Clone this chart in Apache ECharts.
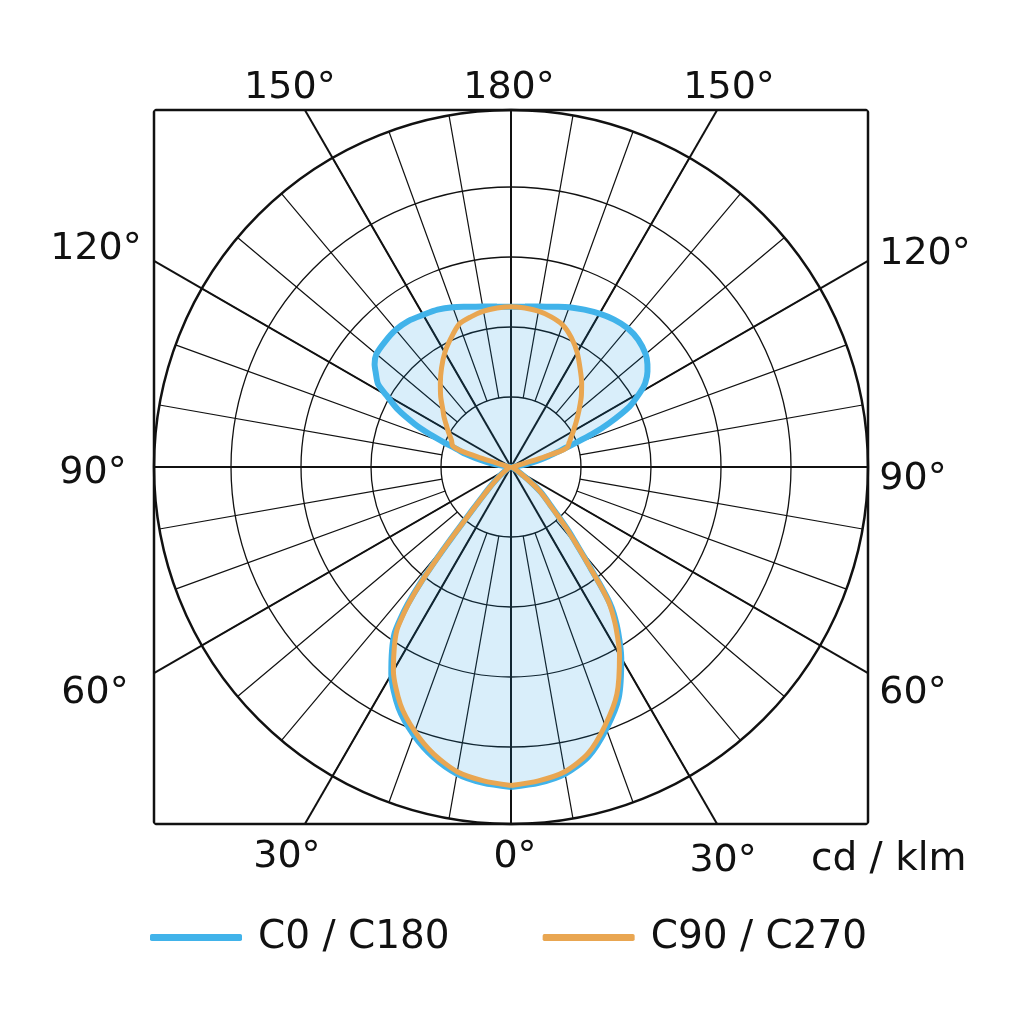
<!DOCTYPE html>
<html>
<head>
<meta charset="utf-8">
<script src="https://cdn.jsdelivr.net/npm/echarts@6/dist/echarts.min.js"></script>
<style>html,body{margin:0;padding:0;background:#fff}#c{width:1024px;height:1024px}</style>
</head>
<body>
<div id="c"></div>
<script>
// gamma angles (deg, 0 = straight down, 180 = straight up)
const gamma = [0,5,10,15,20,25,30,33,35,36,37,38,39,40,41,42,43,44,46,48,50,52,55,60,65,70,80,90,95,100,102,104,106,107,108,109,110,112,114,117,120,122,125,127,130,135,140,145,150,155,160,165,170,175,180];
// C0 (right half of blue curve), cd/klm
const c0   = [457,453,445,428,398,364,315,281,256,240,215,188,168,150,135,122,108,96,78,66,55,40,22,9,5,3,2,2,4,18,30,42,55,63,72,80,92,125,153,190,213,226,238,244,251,257,259,257,253,248,243,237,233,230,229];
// C180 (left half of blue curve)
const c180 = [457,453,445,429,407,380,342,312,290,270,245,210,168,130,100,82,68,58,44,34,26,20,13,7,4,3,2,2,4,22,36,52,68,74,80,88,100,125,150,182,206,224,236,244,251,254,256,255,251,248,243,237,233,230,229];
// C90 (right half of orange curve)
const c90  = [455,450,442,424,393,358,310,276,251,236,212,186,166,148,133,120,106,94,76,64,53,38,20,8,5,3,2,2,3,6,8,12,25,50,76,84,87,89,92,97,103,107,114,119,127,142,157,172,189,204,216,222,226,228,229];
// C270 (left half of orange curve)
const c270 = [455,450,442,425,402,374,336,306,284,264,240,206,165,128,98,80,66,56,42,32,25,19,12,6,4,3,2,2,3,6,8,12,25,50,76,85,89,91,93,98,104,108,115,120,127,142,157,173,189,203,217,222,226,228,229];

const seriesNames = ['C0 / C180', 'C90 / C270'];
const angleTicks = [0,30,60,90,120,150,180,210,240,270,300,330];
const ringValues = [100,200,300,400];
const radiusMax = 510;
const unitLabel = 'cd / klm';

// layout / style
const CX = 511, CY = 467, R_PX = 357;
const FONT = 'DejaVu Sans';
const INK = '#111';
const BLUE = '#41b3ea', ORANGE = '#e9a651', FILL = 'rgba(18,149,224,0.16)';
const labelOffsets = {
  0:[4,33], 30:[6,37], 60:[45,20], 90:[45,12], 120:[57,-7], 150:[12,-22],
  180:[-2,-22], 210:[-15,-22], 240:[-58,-12], 270:[-61,6], 300:[-59,20], 330:[-18,33]
};

function boxRadius(a){
  const t = (270 + a) * Math.PI / 180;
  return radiusMax / Math.max(Math.abs(Math.cos(t)), Math.abs(Math.sin(t)));
}

function curve(right, left){
  const d = gamma.map((g,i)=>[right[i], g]);
  for (let i = gamma.length - 2; i >= 0; i--) d.push([left[i], 360 - gamma[i]]);
  return d;
}

const ringMax = ringValues[ringValues.length-1];
const outerMax = radiusMax * Math.SQRT2;   // data polar reaches the frame corners
const hiddenRadius = {axisLine:{show:false},axisTick:{show:false},axisLabel:{show:false},splitLine:{show:false}};
const hiddenAngle = {axisLine:{show:false},axisTick:{show:false},axisLabel:{show:false},splitLine:{show:false}};

const series = [];
// frame square
series.push({
  type:'line', coordinateSystem:'polar', polarIndex:0, silent:true, clip:false,
  symbol:'none', data:[[outerMax,45],[outerMax,135],[outerMax,225],[outerMax,315],[outerMax,45]],
  lineStyle:{color:INK,width:2.5}, z:2
});
// thick spokes every 30 deg
angleTicks.forEach(a=>{
  series.push({
    type:'line', coordinateSystem:'polar', polarIndex:0, silent:true, clip:false,
    symbol:'none', data:[[0,a],[boxRadius(a),a]],
    lineStyle:{color:INK,width:2}, z:2
  });
});
// data curves
series.push({
  name:seriesNames[0], type:'line', coordinateSystem:'polar', polarIndex:0,
  data:curve(c0,c180), symbol:'none', smooth:0.25, clip:false,
  lineStyle:{color:BLUE,width:6}, itemStyle:{color:BLUE},
  areaStyle:{color:FILL, opacity:1}, z:3
});
series.push({
  name:seriesNames[1], type:'line', coordinateSystem:'polar', polarIndex:0,
  data:curve(c90,c270), symbol:'none', smooth:0.25, clip:false,
  lineStyle:{color:ORANGE,width:5}, itemStyle:{color:ORANGE}, z:4
});
// angle labels
series.push({
  type:'scatter', coordinateSystem:'polar', polarIndex:0, silent:true, clip:false,
  symbol:'circle', symbolSize:0.01, itemStyle:{color:'#fff', opacity:1},
  data: angleTicks.map(a=>({
    value:[boxRadius(a), a],
    label:{offset:labelOffsets[a]}
  })),
  label:{
    show:true, position:[0,0], align:'center', verticalAlign:'middle',
    fontSize:38, fontFamily:FONT, color:INK, opacity:1, textBorderWidth:0,
    formatter:p=>{ const a=p.value[1]; return (a<=180? a : 360-a) + '°'; }
  }, z:5
});

const option = {
  animation:false,
  backgroundColor:'#fff',
  textStyle:{fontFamily:FONT},
  title:{text:unitLabel, left:811, top:840, padding:0,
    textStyle:{fontSize:39, fontWeight:'normal', color:INK, fontFamily:FONT}},
  legend:{
    data:seriesNames, left:150, top:918, padding:0, icon:'roundRect',
    itemWidth:92, itemHeight:7, itemGap:93, selectedMode:false,
    textStyle:{fontSize:39, color:INK, fontFamily:FONT, padding:[0,0,0,11]}
  },
  polar:[
    {center:[CX,CY], radius:R_PX*Math.SQRT2},
    {center:[CX,CY], radius:R_PX*ringMax/radiusMax},
    {center:[CX,CY], radius:[R_PX*ringValues[0]/radiusMax, R_PX]},
    {center:[CX,CY], radius:R_PX}
  ],
  radiusAxis:[
    Object.assign({polarIndex:0, type:'value', min:0, max:outerMax}, hiddenRadius),
    {polarIndex:1, type:'value', min:0, max:ringMax, interval:ringValues[0],
      axisLine:{show:false}, axisTick:{show:false}, axisLabel:{show:false},
      splitLine:{show:true, lineStyle:{color:INK, width:1.3}}},
    Object.assign({polarIndex:2, type:'value', min:0, max:1}, hiddenRadius),
    Object.assign({polarIndex:3, type:'value', min:0, max:radiusMax}, hiddenRadius)
  ],
  angleAxis:[
    Object.assign({polarIndex:0, type:'value', min:0, max:360, startAngle:270, clockwise:false}, hiddenAngle),
    Object.assign({polarIndex:1, type:'value', min:0, max:360, startAngle:270, clockwise:false}, hiddenAngle),
    {polarIndex:2, type:'value', min:0, max:360, interval:10, startAngle:270, clockwise:false,
      axisLine:{show:false}, axisTick:{show:false}, axisLabel:{show:false},
      splitLine:{show:true, lineStyle:{color:INK, width:1.2}}},
    {polarIndex:3, type:'value', min:0, max:360, startAngle:270, clockwise:false,
      axisLine:{show:true, lineStyle:{color:INK, width:2.5}},
      axisTick:{show:false}, axisLabel:{show:false}, splitLine:{show:false}}
  ],
  series:series
};
const chart = echarts.init(document.getElementById('c'), null, {renderer:'canvas'});
chart.setOption(option);
</script>
</body>
</html>
